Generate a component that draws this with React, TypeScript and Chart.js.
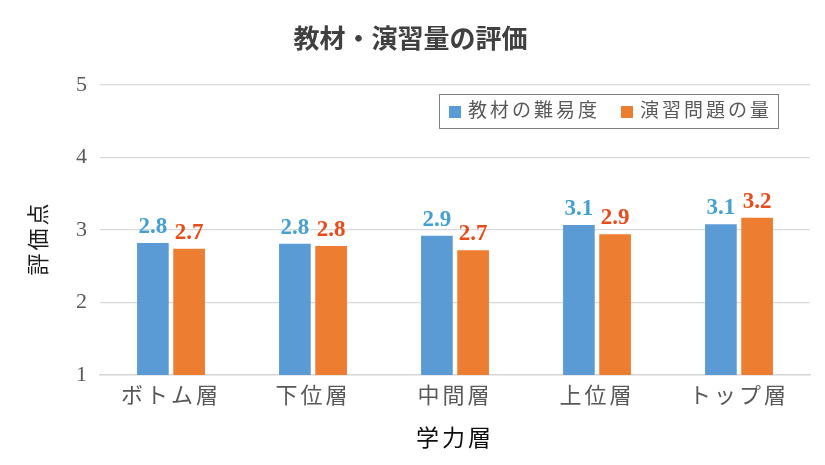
import React, { useEffect, useRef } from "react";
import { Chart, registerables } from "chart.js";

Chart.register(...registerables);

const categories = ["ボトム層", "下位層", "中間層", "上位層", "トップ層"];
const difficulty = [2.82, 2.81, 2.92, 3.07, 3.08];
const exerciseAmount = [2.74, 2.78, 2.72, 2.94, 3.17];
const seriesNames = ["教材の難易度", "演習問題の量"];
const barColors = ["#5b9bd5", "#ed7d31"];
const labelColors = ["#45a1d4", "#e84c1a"];
const titleText = "教材・演習量の評価";
const xTitleText = "学力層";
const yTitleText = "評価点";

const SERIF = '"Liberation Serif", "Noto Sans CJK JP", serif';
const SANS = '"Noto Sans CJK JP", "Noto Sans", sans-serif';

const overlayPlugin = {
  id: "overlay",
  beforeDraw(chart: any) {
    const ctx = chart.ctx as any;
    ctx.save();
    ctx.fillStyle = "#ffffff";
    ctx.fillRect(0, 0, chart.width, chart.height);
    ctx.restore();
  },
  afterDraw(chart: any) {
    const ctx = chart.ctx as any;
    const area = chart.chartArea;

    // Title
    ctx.save();
    ctx.letterSpacing = "0px";
    ctx.font = `bold 26px ${SANS}`;
    ctx.fillStyle = "#404040";
    ctx.textAlign = "center";
    ctx.textBaseline = "middle";
    ctx.fillText(titleText, chart.width / 2 - 2, 38);
    ctx.restore();

    // Y axis title, rotated counter-clockwise
    ctx.save();
    ctx.letterSpacing = "3px";
    ctx.font = `22px ${SERIF}`;
    ctx.fillStyle = "#1a1a1a";
    ctx.translate(area.left - 60, (area.top + area.bottom) / 2 + 8);
    ctx.rotate(-Math.PI / 2);
    ctx.textAlign = "center";
    ctx.textBaseline = "middle";
    ctx.fillText(yTitleText, 0, 0);
    ctx.restore();

    // Legend with border
    ctx.save();
    ctx.letterSpacing = "3px";
    ctx.font = `19px ${SERIF}`;
    const sq = 12;
    const padL = 10;
    const padR = 6;
    const gapSq = 7;
    const gapItem = 21;
    const widths = seriesNames.map((n) => ctx.measureText(n).width);
    let total = padL + padR;
    widths.forEach((w, i) => {
      total += sq + gapSq + w + (i < widths.length - 1 ? gapItem : 0);
    });
    const boxH = 34;
    const right = area.right - 32;
    const left = right - total;
    const top = area.top + 9;
    ctx.strokeStyle = "#7f7f7f";
    ctx.lineWidth = 1;
    ctx.strokeRect(Math.round(left) + 0.5, Math.round(top) + 0.5, Math.round(total), boxH);
    let x = left + padL;
    const cy = top + boxH / 2 + 1;
    seriesNames.forEach((n, i) => {
      ctx.fillStyle = barColors[i];
      ctx.fillRect(x, cy - sq / 2, sq, sq);
      x += sq + gapSq;
      ctx.fillStyle = "#595959";
      ctx.textAlign = "left";
      ctx.textBaseline = "middle";
      ctx.fillText(n, x, cy);
      x += widths[i] + gapItem;
    });
    ctx.restore();
  },
  afterDatasetsDraw(chart: any) {
    const ctx = chart.ctx as any;
    ctx.save();
    ctx.letterSpacing = "0px";
    ctx.font = `bold 23px ${SERIF}`;
    ctx.textAlign = "center";
    ctx.textBaseline = "alphabetic";
    chart.data.datasets.forEach((ds: any, di: number) => {
      const meta = chart.getDatasetMeta(di);
      ctx.fillStyle = labelColors[di];
      meta.data.forEach((el: any, i: number) => {
        const v = ds.data[i] as number;
        ctx.fillText(v.toFixed(1), el.x, el.y - 10);
      });
    });
    ctx.restore();
  },
};

const spacingPlugin = {
  id: "spacing",
  beforeLayout(chart: any) {
    (chart.ctx as any).letterSpacing = "3px";
  },
  beforeDraw(chart: any) {
    (chart.ctx as any).letterSpacing = "3px";
  },
};

export default function App() {
  const ref = useRef<HTMLCanvasElement | null>(null);

  useEffect(() => {
    document.body.style.margin = "0";
    if (!ref.current) return;
    const chart = new Chart(ref.current, {
      type: "bar",
      data: {
        labels: categories,
        datasets: [
          {
            label: seriesNames[0],
            data: difficulty,
            backgroundColor: barColors[0],
            categoryPercentage: 0.51,
            barPercentage: 0.875,
          },
          {
            label: seriesNames[1],
            data: exerciseAmount,
            backgroundColor: barColors[1],
            categoryPercentage: 0.51,
            barPercentage: 0.875,
          },
        ],
      },
      options: {
        animation: false,
        responsive: false,
        devicePixelRatio: 1,
        layout: { padding: { left: 66, right: 15, top: 85, bottom: 11 } },
        plugins: {
          legend: { display: false },
          title: { display: false },
          tooltip: { enabled: false },
        },
        scales: {
          x: {
            grid: { display: false, drawTicks: false },
            border: { display: true, color: "#d9d9d9", width: 1.5 },
            ticks: {
              color: "#595959",
              font: { family: SERIF, size: 22 },
              padding: 9,
              maxRotation: 0,
            },
            title: {
              display: true,
              text: xTitleText,
              color: "#0d0d0d",
              font: { family: SERIF, size: 23 },
              padding: { top: 7, bottom: 0 },
            },
          },
          y: {
            min: 1,
            max: 5,
            grid: { color: "#d9d9d9", drawTicks: false, lineWidth: 1.2 },
            border: { display: false },
            ticks: {
              stepSize: 1,
              color: "#595959",
              font: { family: SERIF, size: 22 },
              padding: 10,
            },
          },
        },
      },
      plugins: [spacingPlugin, overlayPlugin],
    });
    return () => chart.destroy();
  }, []);

  return <canvas ref={ref} width={825} height={465} style={{ display: "block" }} />;
}
